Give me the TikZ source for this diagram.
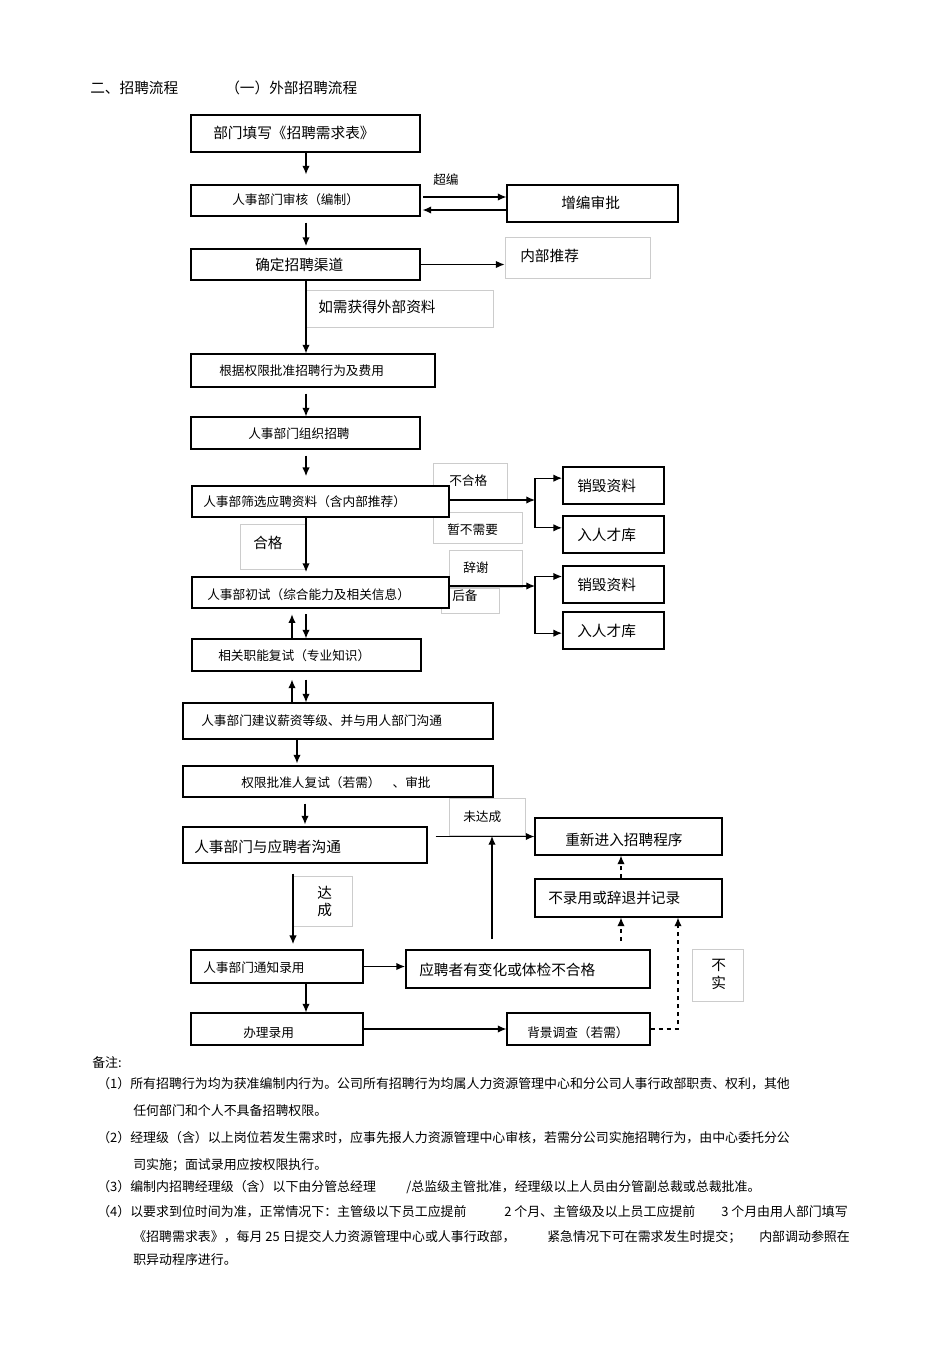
\documentclass[tikz,border=0pt]{standalone}
\usepackage{fontspec}
\usepackage{tikz}
\usetikzlibrary{arrows.meta}
\setmainfont{Noto Sans CJK SC}
\newcommand{\bigtxt}{\fontsize{11pt}{13pt}\selectfont}
\newcommand{\smltxt}{\fontsize{9.5pt}{11pt}\selectfont}
\newcommand{\notetxt}{\fontsize{9.7pt}{12pt}\selectfont}
% box from (x1,y1) to (x2,y2) in pixels, text starting at a given point
\newcommand{\flowbox}[8][box]{
	\node[#1, minimum width={(#5-#3)*0.75pt}, minimum height={(#6-#4)*0.75pt}]
		(#2) at ({(#3+#5)/2},{(#4+#6)/2}) {};
	\node[txt] (#2-t) at (#7) {#8};
}

\begin{document}
\begin{tikzpicture}[x=0.75pt, y=-0.75pt,
		box/.style={draw, fill=white, line width=0.8pt, inner sep=0pt},
		heavybox/.style={box, line width=1.4pt},
		tag/.style={draw=black!20, line width=0.6pt, inner sep=0pt},
		txt/.style={anchor=west, inner sep=0pt},
		arr/.style={-{Latex[length=6.5pt, width=5.5pt]}, line width=0.9pt},
		dasharr/.style={arr, dashed}]
		\path[fill=white, use as bounding box] (0,0) rectangle (950,1345);
		% titles
		\node[txt, font=\bigtxt] (ttl) at (90,88) {二、招聘流程};
		\node[txt, font=\bigtxt] (sub) at (225,88) {（一）外部招聘流程};
		% labels in light boxes
		\flowbox[tag]{tn}{505}{237}{650}{278}{520,256}{\bigtxt 内部推荐}
		\flowbox[tag]{tw}{306}{290}{493}{327}{318,307}{\bigtxt 如需获得外部资料}
		\flowbox[tag]{tf}{433}{463}{507}{500}{449,481}{\smltxt 不合格}
		\flowbox[tag]{tz}{433}{512}{522}{543}{447,530}{\smltxt 暂不需要}
		\flowbox[tag]{tq}{240}{524}{306}{569}{253,543}{\bigtxt 合格}
		\flowbox[tag]{tc}{449}{550}{522}{587}{463,568}{\smltxt 辞谢}
		\flowbox[tag]{th}{441}{588}{499}{613}{452,596}{\smltxt 后备}
		\flowbox[tag]{tm}{449}{798}{525}{835}{463,817}{\smltxt 未达成}
		\flowbox[tag]{td}{293}{876}{352}{926}{317,893}{\bigtxt 达}
		\node[txt, font=\bigtxt] (td-b) at (317,910) {成};
		\flowbox[tag]{tb}{692}{949}{743}{1001}{711,965}{\bigtxt 不}
		\node[txt, font=\bigtxt] (tb-b) at (711,983) {实};
		\node[txt, font=\smltxt] (ov) at (433,180) {超编};
		% boxes
		\flowbox{b1}{191}{115}{420}{152}{213,133}{\bigtxt 部门填写《招聘需求表》}
		\flowbox{b2}{191}{185}{420}{216}{232,200}{\smltxt 人事部门审核（编制）}
		\flowbox{bz}{507}{185}{678}{222}{561,203}{\bigtxt 增编审批}
		\flowbox[heavybox]{b3}{191}{249}{420}{280}{255,265}{\bigtxt 确定招聘渠道}
		\flowbox{b4}{191}{354}{435}{387}{219,371}{\smltxt 根据权限批准招聘行为及费用}
		\flowbox{b5}{191}{417}{420}{449}{248,434}{\smltxt 人事部门组织招聘}
		\flowbox{b6}{192}{486}{449}{517}{203,502}{\smltxt 人事部筛选应聘资料（含内部推荐）}
		\flowbox[heavybox]{d1}{563}{467}{664}{504}{577,486}{\bigtxt 销毁资料}
		\flowbox[heavybox]{k1}{563}{516}{664}{553}{577,535}{\bigtxt 入人才库}
		\flowbox[heavybox]{b7}{192}{577}{449}{608}{207,595}{\smltxt 人事部初试（综合能力及相关信息）}
		\flowbox[heavybox]{d2}{563}{566}{664}{603}{577,585}{\bigtxt 销毁资料}
		\flowbox[heavybox]{k2}{563}{612}{664}{649}{577,631}{\bigtxt 入人才库}
		\flowbox{b8}{192}{639}{421}{671}{218,656}{\smltxt 相关职能复试（专业知识）}
		\flowbox{b9}{183}{703}{493}{739}{201,721}{\smltxt 人事部门建议薪资等级、并与用人部门沟通}
		\flowbox{b10}{183}{766}{493}{797}{241,783}{\smltxt 权限批准人复试（若需）\hspace{9pt}、审批}
		\flowbox{b11}{183}{827}{427}{863}{194,847}{\bigtxt 人事部门与应聘者沟通}
		\flowbox{br}{535}{818}{722}{855}{565,840}{\bigtxt 重新进入招聘程序}
		\flowbox{bn}{535}{879}{722}{917}{548,898}{\bigtxt 不录用或辞退并记录}
		\flowbox{bt}{191}{950}{363}{983}{203,968}{\smltxt 人事部门通知录用}
		\flowbox[heavybox]{bc}{406}{950}{650}{988}{419,970}{\bigtxt 应聘者有变化或体检不合格}
		\flowbox{bl}{191}{1013}{363}{1045}{243,1033}{\smltxt 办理录用}
		\flowbox{bg}{507}{1013}{650}{1045}{527,1033}{\smltxt 背景调查（若需）}
		% main line
		\draw[arr, shorten >=7.5pt] (306,0 |- b1.south) -- (306,0 |- b2.north);
		\draw[arr, shorten <=4.5pt, shorten >=1.5pt] (306,0 |- b2.south) -- (306,0 |- b3.north);
		\draw[arr] (306,0 |- b3.south) -- (306,0 |- b4.north);
		\draw[arr, shorten <=4.5pt] (306,0 |- b4.south) -- (306,0 |- b5.north);
		\draw[arr, shorten <=4.5pt, shorten >=7pt] (306,0 |- b5.south) -- (306,0 |- b6.north);
		\draw[arr, shorten >=3pt] (306,0 |- b6.south) -- (306,0 |- b7.north);
		\draw[arr, shorten >=4pt] (292,0 |- b8.north) -- (292,0 |- b7.south);
		\draw[arr, shorten <=4pt] (306,0 |- b7.south) -- (306,0 |- b8.north);
		\draw[arr, shorten >=6pt] (292,0 |- b9.north) -- (292,0 |- b8.south);
		\draw[arr, shorten <=6pt] (306,0 |- b8.south) -- (306,0 |- b9.north);
		\draw[arr, shorten >=1.5pt] (297,0 |- b9.south) -- (297,0 |- b10.north);
		\draw[arr, shorten <=4.5pt, shorten >=1.5pt] (305,0 |- b10.south) -- (305,0 |- b11.north);
		\draw[arr, shorten <=7.5pt, shorten >=4pt] (293,0 |- b11.south) -- (293,0 |- bt.north);
		\draw[arr] (306,0 |- bt.south) -- (306,0 |- bl.north);
		% side branches
		\draw[arr, shorten <=2pt] (b2.east |- 0,197) -- (bz.west |- 0,197);
		\draw[arr, shorten >=1.5pt] (bz.west |- 0,210) -- (b2.east |- 0,210);
		\draw[arr] (b3.east) -- (b3.east -| tn.west);
		\coordinate (fk1) at (535,500);
		\draw[arr] (b6.east |- fk1) -- (fk1);
		\draw[arr] (fk1) |- ([yshift=5.5pt]d1.west);
		\draw[arr] (fk1) |- ([yshift=5pt]k1.west);
		\coordinate (fk2) at (535,586);
		\draw[arr] (b7.east |- fk2) -- (fk2);
		\draw[arr] (fk2) |- ([yshift=6pt]d2.west);
		\draw[arr] (fk2) |- ([yshift=-2pt]k2.west);
		% result of talks
		\coordinate (mj) at (492,836);
		\draw[arr, shorten <=6pt] (b11.east |- br.west) -- (br.west);
		\draw[arr, shorten <=7.5pt] (mj |- bc.north) -- (mj);
		\draw[arr] (bt.east) -- (bt.east -| bc.west);
		\draw[arr] (bl.east) -- (bl.east -| bg.west);
		\draw[dasharr] (621,0 |- bn.north) -- (621,0 |- br.south);
		\draw[dasharr, shorten <=6pt] (621,0 |- bc.north) -- (621,0 |- bn.south);
		\draw[dasharr] (bg.east) -| (678,0 |- bn.south);
		% notes
		\node[txt, font=\notetxt] (nt) at (92,1063) {备注:};
		\node[txt, font=\notetxt] (n1) at (97,1084) {（1）所有招聘行为均为获准编制内行为。公司所有招聘行为均属人力资源管理中心和分公司人事行政部职责、权利，其他};
		\node[txt, font=\notetxt] (n1b) at (133,1111) {任何部门和个人不具备招聘权限。};
		\node[txt, font=\notetxt] (n2) at (97,1138) {（2）经理级（含）以上岗位若发生需求时，应事先报人力资源管理中心审核，若需分公司实施招聘行为，由中心委托分公};
		\node[txt, font=\notetxt] (n2b) at (133,1165) {司实施；面试录用应按权限执行。};
		\node[txt, font=\notetxt] (n3) at (97,1187) {（3）编制内招聘经理级（含）以下由分管总经理};
		\node[txt, font=\notetxt] (n3b) at (406,1187) {/总监级主管批准，经理级以上人员由分管副总裁或总裁批准。};
		\node[txt, font=\notetxt] (n4) at (97,1212) {（4）以要求到位时间为准，正常情况下：主管级以下员工应提前};
		\node[txt, font=\notetxt] (n4b) at (504,1212) {2 个月、主管级及以上员工应提前};
		\node[txt, font=\notetxt] (n4c) at (721,1212) {3 个月由用人部门填写};
		\node[txt, font=\notetxt] (n5) at (133,1237) {《招聘需求表》，每月 25 日提交人力资源管理中心或人事行政部，};
		\node[txt, font=\notetxt] (n5b) at (547,1237) {紧急情况下可在需求发生时提交；};
		\node[txt, font=\notetxt] (n5c) at (759,1237) {内部调动参照在};
		\node[txt, font=\notetxt] (n6) at (133,1260) {职异动程序进行。};
	\end{tikzpicture}
\end{document}
